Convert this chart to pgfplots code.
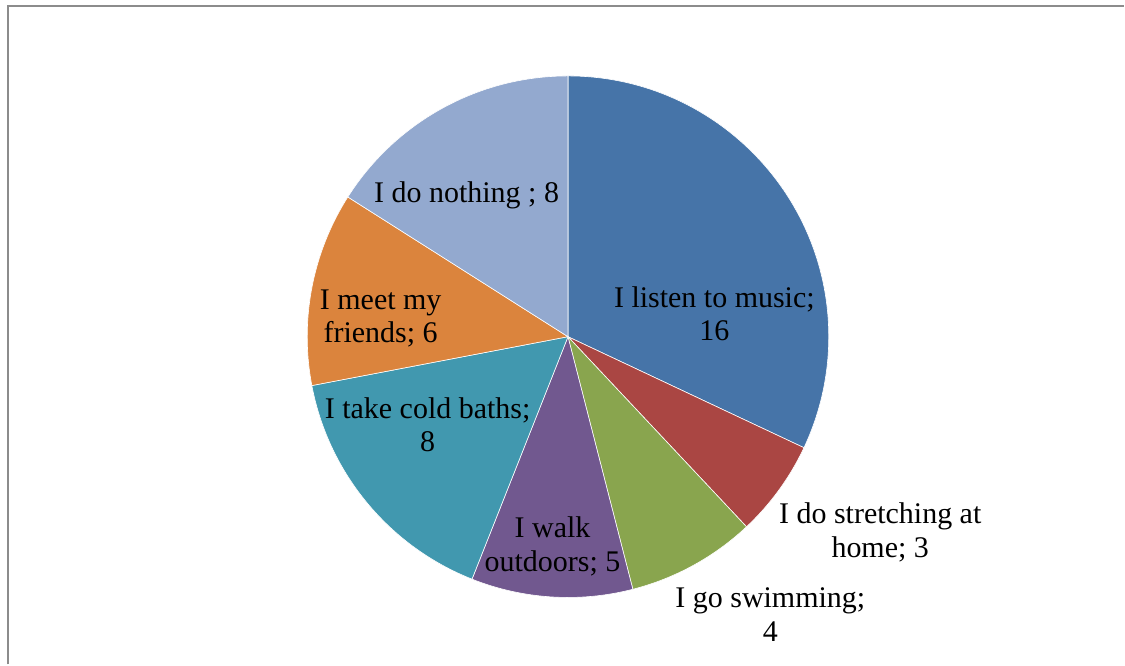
\documentclass[border=0pt]{standalone}
\usepackage{pgfplots}
\pgfplotsset{compat=1.18}
\usepackage{pgfplotstable}
\usepackage{fontspec}
\setmainfont{Liberation Serif}
\definecolor{c0}{HTML}{4674A8}
\definecolor{c1}{HTML}{AA4643}
\definecolor{c2}{HTML}{89A54E}
\definecolor{c3}{HTML}{71588F}
\definecolor{c4}{HTML}{4198AF}
\definecolor{c5}{HTML}{DB843D}
\definecolor{c6}{HTML}{93A9CF}
\pgfplotstableread{
label value
music 16
stretching 3
swimming 4
walk 5
cold 8
friends 6
nothing 8
}\piedata
% precompute slice angles from the table
\gdef\tot{0}
\pgfplotsforeachungrouped \i in {0,1,2,3,4,5,6}{%
  \pgfplotstablegetelem{\i}{value}\of\piedata
  \pgfmathparse{\tot+\pgfplotsretval}\xdef\tot{\pgfmathresult}%
}
\gdef\cum{0}
\pgfplotsforeachungrouped \i in {0,1,2,3,4,5,6}{%
  \pgfplotstablegetelem{\i}{value}\of\piedata
  \pgfmathparse{90-\cum/\tot*360}\expandafter\xdef\csname sa\i\endcsname{\pgfmathresult}%
  \pgfmathparse{\cum+\pgfplotsretval}\xdef\cum{\pgfmathresult}%
  \pgfmathparse{90-\cum/\tot*360}\expandafter\xdef\csname ea\i\endcsname{\pgfmathresult}%
  \pgfmathparse{568.5+261*cos(\csname sa\i\endcsname)}\expandafter\xdef\csname px\i\endcsname{\pgfmathresult}%
  \pgfmathparse{328+261*sin(\csname sa\i\endcsname)}\expandafter\xdef\csname py\i\endcsname{\pgfmathresult}%
}
\begin{document}
\begin{tikzpicture}
\begin{axis}[x=0.5pt, y=0.5pt, xmin=0, xmax=1125, ymin=0, ymax=665,
  hide axis, clip=false]
\path (axis cs:0,0) rectangle (axis cs:1125,665);
\draw[color=black!45, line width=1pt] (axis cs:8,0) -- (axis cs:8,659) -- (axis cs:1125,659);
\pgfplotsinvokeforeach{0,1,2,3,4,5,6}{%
  \fill[c#1, draw=white, line width=0.3pt, line join=round] (axis cs:568.5,328) -- (axis cs:\csname px#1\endcsname,\csname py#1\endcsname) arc[start angle=\csname sa#1\endcsname, end angle=\csname ea#1\endcsname, radius=130.5pt] -- cycle;
}
\begin{scope}[every node/.style={align=center, font=\fontsize{15}{16.75}\selectfont, inner sep=0pt}]
\node at (axis cs:715,351) {I listen to music;\\16};
\node at (axis cs:881,132) {I do stretching at\\home; 3};
\node at (axis cs:771,50) {I go swimming;\\4};
\node at (axis cs:553,118) {I walk\\outdoors; 5};
\node at (axis cs:428,240) {I take cold baths;\\8};
\node at (axis cs:381,346) {I meet my\\friends; 6};
\node[anchor=base] at (axis cs:467,462) {I do nothing ; 8};
\end{scope}
\end{axis}
\end{tikzpicture}
\end{document}
